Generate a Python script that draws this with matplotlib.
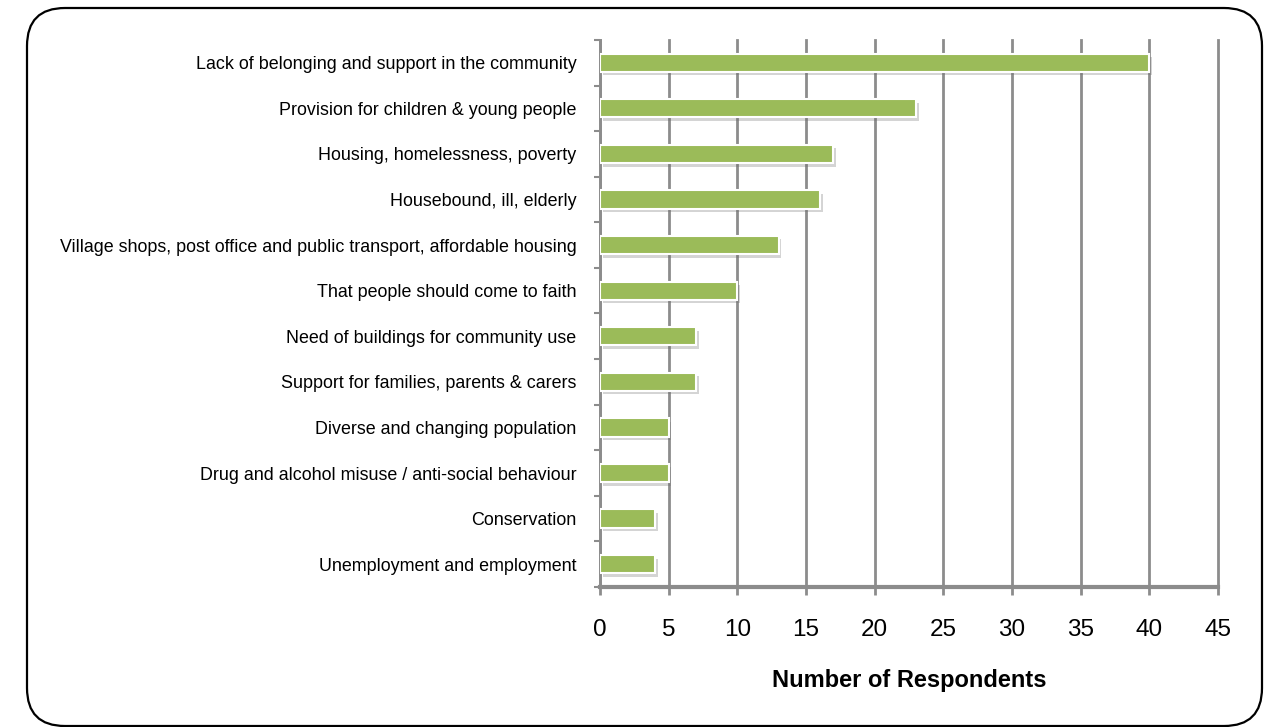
import matplotlib.pyplot as plt
import matplotlib.patheffects as pe
from matplotlib.patches import FancyBboxPatch
from matplotlib.transforms import IdentityTransform

plt.rcParams['font.family'] = ['Liberation Sans', 'DejaVu Sans']

categories = [
    'Lack of belonging and support in the community',
    'Provision for children & young people',
    'Housing, homelessness, poverty',
    'Housebound, ill, elderly',
    'Village shops, post office and public transport, affordable housing',
    'That people should come to faith',
    'Need of buildings for community use',
    'Support for families, parents & carers',
    'Diverse and changing population',
    'Drug and alcohol misuse / anti-social behaviour',
    'Conservation',
    'Unemployment and employment',
]
respondents = [40, 23, 17, 16, 13, 10, 7, 7, 5, 5, 4, 4]
x_ticks = list(range(0, 50, 5))

bar_color = '#9BBB59'
grid_color = '#8c8c8c'

fig = plt.figure(figsize=(12.75, 7.27), dpi=100)
ax = fig.add_axes([0.4706, 0.1926, 0.4847, 0.7524])

# rounded frame around the whole chart (pixel coordinates)
frame = FancyBboxPatch((27, 1), 1235, 718, boxstyle='round,pad=0,rounding_size=38',
                       transform=IdentityTransform(), facecolor='none',
                       edgecolor='black', linewidth=1.6, zorder=0)
fig.patches.append(frame)

ypos = list(range(len(categories)))
bars = ax.barh(ypos, respondents, height=0.4, color=bar_color, edgecolor='white',
               linewidth=1.5, zorder=3)
for b in bars:
    b.set_path_effects([pe.SimplePatchShadow(offset=(2, -2.5), shadow_rgbFace='#666666', alpha=0.28),
                        pe.Normal()])

ax.set_ylim(len(categories) - 0.5, -0.5)
ax.set_xlim(0, 45)

ax.set_yticks(ypos)
ax.set_yticklabels(categories, fontsize=12.9)
ax.set_yticks([i - 0.5 for i in range(len(categories) + 1)], minor=True)
ax.tick_params(axis='y', which='major', length=0, pad=17)
ax.tick_params(axis='y', which='minor', length=4, width=1.5, color=grid_color)

ax.set_xticks(x_ticks)
ax.tick_params(axis='x', length=6, width=2, color=grid_color, pad=17, labelsize=17.5)
ax.set_xlabel('Number of Respondents', fontsize=17, fontweight='bold', labelpad=20)

ax.grid(axis='x', color=grid_color, linewidth=2, zorder=0)
ax.set_axisbelow(True)
for line in ax.get_xgridlines():
    line.set_clip_on(False)

for side in ['top', 'right']:
    ax.spines[side].set_visible(False)
ax.spines['left'].set_color(grid_color)
ax.spines['left'].set_linewidth(2)
ax.spines['bottom'].set_color(grid_color)
ax.spines['bottom'].set_linewidth(3)

fig.savefig('out.png', dpi=100)
